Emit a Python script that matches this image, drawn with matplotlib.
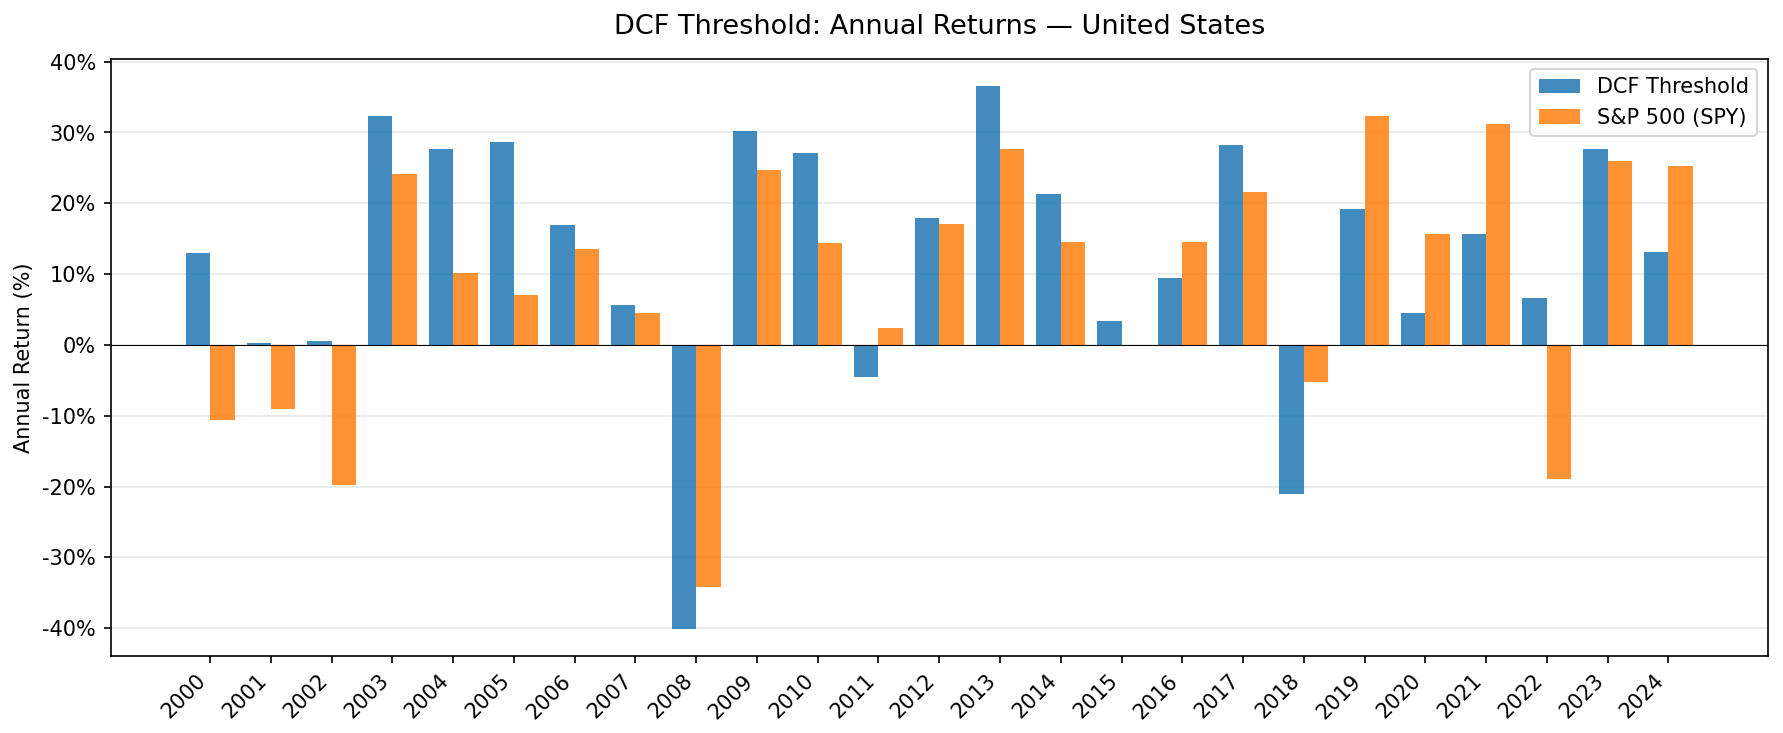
import matplotlib.pyplot as plt
import numpy as np
from matplotlib.ticker import FuncFormatter

years = list(range(2000, 2025))

# annual returns in %
dcf_returns = [13.0, 0.3, 0.6, 32.3, 27.7, 28.6, 16.9, 5.7, -40.1, 30.2,
               27.1, -4.5, 17.9, 36.6, 21.3, 3.4, 9.5, 28.2, -21.0, 19.2,
               4.5, 15.6, 6.6, 27.7, 13.1]
spy_returns = [-10.6, -9.0, -19.8, 24.1, 10.2, 7.1, 13.6, 4.5, -34.2, 24.7,
               14.4, 2.4, 17.1, 27.7, 14.5, 0.0, 14.5, 21.6, -5.2, 32.3,
               15.6, 31.2, -19.0, 26.0, 25.2]

x = np.arange(len(years))
width = 0.4

fig, ax = plt.subplots(figsize=(11.893, 4.887), dpi=150)
fig.subplots_adjust(left=0.062, right=0.991, top=0.92, bottom=0.105)

ax.bar(x - width / 2, dcf_returns, width, label='DCF Threshold', color='tab:blue', alpha=0.85)
ax.bar(x + width / 2, spy_returns, width, label='S&P 500 (SPY)', color='tab:orange', alpha=0.85)
ax.axhline(0, color='black', linewidth=0.5)

ax.set_xticks(x)
ax.set_xticklabels(years, rotation=45, ha='right')
ax.yaxis.set_major_formatter(FuncFormatter(lambda v, _: f'{v:.0f}%'))
ax.set_ylabel('Annual Return (%)')
ax.set_title('DCF Threshold: Annual Returns — United States', fontsize=13, pad=12)
ax.legend(loc='upper right')
ax.grid(axis='y', alpha=0.3)
ax.set_axisbelow(True)

fig.savefig('out.png', dpi=150)
